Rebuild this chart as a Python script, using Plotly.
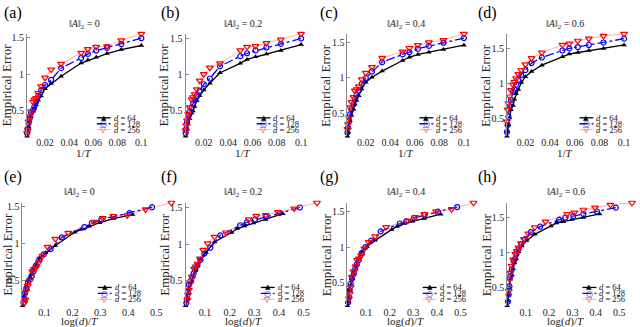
import numpy as np
import plotly.graph_objects as go

# ---------------- data ----------------
T = [10, 12, 14, 16, 18, 20, 30, 40, 50, 60, 70, 80, 90, 100, 120, 140, 160, 180, 200]
D = [64, 128, 256]
norm_labels = ["0", "0.2", "0.4", "0.6"]
panel_labels = ["(a)", "(b)", "(c)", "(d)", "(e)", "(f)", "(g)", "(h)"]

err_n00_d64 = [1.39, 1.335, 1.28, 1.23, 1.19, 1.15, 0.97, 0.87, 0.80, 0.70, 0.64, 0.58, 0.53, 0.49, 0.42, 0.35, 0.28, 0.22, 0.15]
err_n00_d128 = [1.49, 1.41, 1.36, 1.32, 1.275, 1.22, 1.08, 0.92, 0.85, 0.78, 0.70, 0.62, 0.555, 0.51, 0.47, 0.39, 0.325, 0.255, 0.19]
err_n00_d256 = [1.55, 1.46, 1.38, 1.37, 1.34, 1.29, 1.14, 1.06, 0.95, 0.83, 0.74, 0.67, 0.65, 0.62, 0.49, 0.42, 0.35, 0.23, 0.19]

err_n02_d64 = [1.42, 1.34, 1.29, 1.25, 1.215, 1.16, 1.03, 0.885, 0.79, 0.71, 0.64, 0.56, 0.50, 0.47, 0.39, 0.32, 0.25, 0.21, 0.15]
err_n02_d128 = [1.505, 1.43, 1.38, 1.34, 1.30, 1.26, 1.12, 0.95, 0.87, 0.78, 0.71, 0.65, 0.60, 0.55, 0.49, 0.44, 0.34, 0.25, 0.19]
err_n02_d256 = [1.57, 1.49, 1.44, 1.40, 1.39, 1.34, 1.16, 1.10, 1.01, 0.92, 0.80, 0.73, 0.69, 0.66, 0.55, 0.46, 0.37, 0.30, 0.23]

err_n04_d64 = [1.46, 1.40, 1.36, 1.33, 1.29, 1.245, 1.095, 1.01, 0.94, 0.845, 0.75, 0.68, 0.63, 0.56, 0.47, 0.40, 0.30, 0.23, 0.18]
err_n04_d128 = [1.56, 1.495, 1.45, 1.41, 1.36, 1.33, 1.22, 1.09, 1.00, 0.915, 0.82, 0.76, 0.70, 0.63, 0.56, 0.49, 0.40, 0.30, 0.23]
err_n04_d256 = [1.62, 1.53, 1.50, 1.46, 1.42, 1.37, 1.28, 1.15, 1.07, 0.98, 0.88, 0.84, 0.82, 0.73, 0.66, 0.585, 0.44, 0.35, 0.28]

err_n06_d64 = [1.55, 1.50, 1.47, 1.44, 1.42, 1.38, 1.26, 1.17, 1.095, 1.01, 0.91, 0.85, 0.77, 0.68, 0.62, 0.50, 0.40, 0.31, 0.24]
err_n06_d128 = [1.64, 1.585, 1.55, 1.52, 1.50, 1.47, 1.37, 1.29, 1.19, 1.12, 1.05, 0.98, 0.91, 0.88, 0.76, 0.67, 0.52, 0.40, 0.30]
err_n06_d256 = [1.71, 1.68, 1.64, 1.61, 1.57, 1.55, 1.44, 1.36, 1.27, 1.19, 1.13, 1.07, 1.02, 0.98, 0.90, 0.81, 0.71, 0.62, 0.45]

errors = [
    [err_n00_d64, err_n00_d128, err_n00_d256],
    [err_n02_d64, err_n02_d128, err_n02_d256],
    [err_n04_d64, err_n04_d128, err_n04_d256],
    [err_n06_d64, err_n06_d128, err_n06_d256],
]

top_xticks = [0.02, 0.04, 0.06, 0.08, 0.1]
top_xticktext = ["0.02", "0.04", "0.06", "0.08", "0.1"]
bot_xticks = [0.1, 0.2, 0.3, 0.4, 0.5]
bot_xticktext = ["0.1", "0.2", "0.3", "0.4", "0.5"]
yticks = [0.5, 1, 1.5]
yticktext = ["0.5", "1", "1.5"]

# ---------------- layout geometry (pixels) ----------------
W, H = 640, 327
top_x = [(27.3, 142.7), (187.3, 304.0), (350.7, 468.3), (511.7, 630.0)]
bot_x = [(22.7, 173.0), (187.3, 320.0), (350.7, 478.0), (512.0, 638.0)]
top_y = (32.0, 135.0)
bot_y = (202.0, 305.7)
ytitle_x = [7.5, 166.0, 329.0, 490.5]
plabel_x = [2.0, 161.0, 321.0, 481.0]

SERIF = "Liberation Serif, Times New Roman, serif"

styles = [
    dict(line=dict(color="black", width=1.3),
         marker=dict(symbol="triangle-up", size=5, color="black")),
    dict(line=dict(color="blue", width=1.3, dash="dashdot"),
         marker=dict(symbol="circle-open", size=5, color="blue", line=dict(width=1.2))),
    dict(line=dict(color="rgba(255,70,70,0.45)", width=1),
         marker=dict(symbol="triangle-down-open", size=6, color="red", line=dict(width=1.2))),
]
legend_glyph = [("▲", "black", 7), ("○", "blue", 8), ("▽", "red", 8)]
legend_line = [dict(color="black", width=1.3), dict(color="blue", width=1.3, dash="dashdot"),
               dict(color="rgba(255,70,70,0.45)", width=1)]

fig = go.Figure()
annotations = []
shapes = []

for p in range(8):
    row = p // 4
    k = p % 4
    n = p + 1
    xs = "" if n == 1 else str(n)
    xa, ya = "x" + xs, "y" + xs
    if row == 0:
        xpx, ypx = top_x[k], top_y
    else:
        xpx, ypx = bot_x[k], bot_y
    dom_x = [xpx[0] / W, xpx[1] / W]
    dom_y = [1 - ypx[1] / H, 1 - ypx[0] / H]

    allx = []
    ally = []
    for j, d in enumerate(D):
        y = errors[k][j]
        if row == 0:
            x = [1.0 / t for t in T]
        else:
            x = [np.log(d) / t for t in T]
        allx += x
        ally += y
        fig.add_trace(go.Scatter(x=x, y=y, mode="lines+markers", xaxis=xa, yaxis=ya,
                                 showlegend=False, cliponaxis=False, hoverinfo="skip",
                                 **styles[j]))

    xr = [min(allx), max(allx) * 1.0001]
    yr = [min(ally), max(ally)]
    fig.layout["xaxis" + xs] = dict(
        domain=dom_x, anchor=ya, range=xr, showgrid=False, zeroline=False, showline=False,
        ticks="", tickvals=top_xticks if row == 0 else bot_xticks,
        ticktext=top_xticktext if row == 0 else bot_xticktext, ticklabelstandoff=-1,
        tickfont=dict(family=SERIF, size=10, color="#222"))
    fig.layout["yaxis" + xs] = dict(
        domain=dom_y, anchor=xa, range=yr, showgrid=False, zeroline=False,
        showline=True, linecolor="#888", linewidth=1, ticks="inside", ticklen=3,
        tickcolor="#888", tickvals=yticks, ticktext=yticktext,
        tickfont=dict(family=SERIF, size=10, color="#222"))

    pw = xpx[1] - xpx[0]
    ph = ypx[1] - ypx[0]
    xd = xa + " domain"
    yd = ya + " domain"
    ccx = (xpx[0] + xpx[0] + (top_x[k][1] - top_x[k][0])) / 2
    lright = pw if row == 0 else min(pw, 121.0)

    # panel label
    annotations.append(dict(text=panel_labels[p], x=plabel_x[k] / W,
                            y=1 - (11 if row == 0 else 176) / H, xref="paper", yref="paper",
                            xanchor="left", yanchor="middle", showarrow=False,
                            font=dict(family=SERIF, size=16, color="black")))
    # title
    annotations.append(dict(text="‖<i>A</i>‖<sub>2</sub> = " + norm_labels[k], x=ccx / W,
                            y=1 - (22.7 if row == 0 else 191.7) / H, xref="paper", yref="paper",
                            xanchor="center", yanchor="middle", showarrow=False,
                            font=dict(family=SERIF, size=10, color="#222")))
    # x title
    annotations.append(dict(text="1/<i>T</i>" if row == 0 else "log(<i>d</i>)/<i>T</i>",
                            x=ccx / W, y=1 - (151.5 if row == 0 else 321.0) / H,
                            xref="paper", yref="paper",
                            xanchor="center", yanchor="middle", showarrow=False,
                            font=dict(family=SERIF, size=11, color="#222")))
    # y title
    annotations.append(dict(text="Empirical Error", x=ytitle_x[k] / W,
                            y=1 - ((ypx[0] + ypx[1]) / 2) / H, xref="paper", yref="paper",
                            xanchor="center", yanchor="middle", textangle=-90, showarrow=False,
                            font=dict(family=SERIF, size=13, color="#222")))
    # manual legend (bottom-right)
    rows_off = [18.5, 12.5, 6.5]
    for j, d in enumerate(D):
        yy = 1 - (ph - rows_off[j]) / ph
        shapes.append(dict(type="line", xref=xd, yref=yd,
                           x0=(lright - 45) / pw, x1=(lright - 31) / pw, y0=yy, y1=yy,
                           line=legend_line[j]))
        g, c, s = legend_glyph[j]
        annotations.append(dict(text=g, x=(lright - 38) / pw, y=yy, xref=xd, yref=yd,
                                xanchor="center", yanchor="middle", showarrow=False,
                                font=dict(family="DejaVu Sans", size=s, color=c)))
        annotations.append(dict(text="<i>d</i> = " + str(d), x=(lright - 30) / pw, y=yy,
                                xref=xd, yref=yd, xanchor="left", yanchor="middle",
                                showarrow=False,
                                font=dict(family=SERIF, size=8.5, color="#111")))

fig.update_layout(width=W, height=H, margin=dict(l=0, r=0, t=0, b=0),
                  paper_bgcolor="white", plot_bgcolor="white", hovermode=False,
                  annotations=annotations, shapes=shapes, showlegend=False)

fig.write_html("out.html", config={"displayModeBar": False, "staticPlot": True},
               post_script="document.body.style.margin='0px';")
